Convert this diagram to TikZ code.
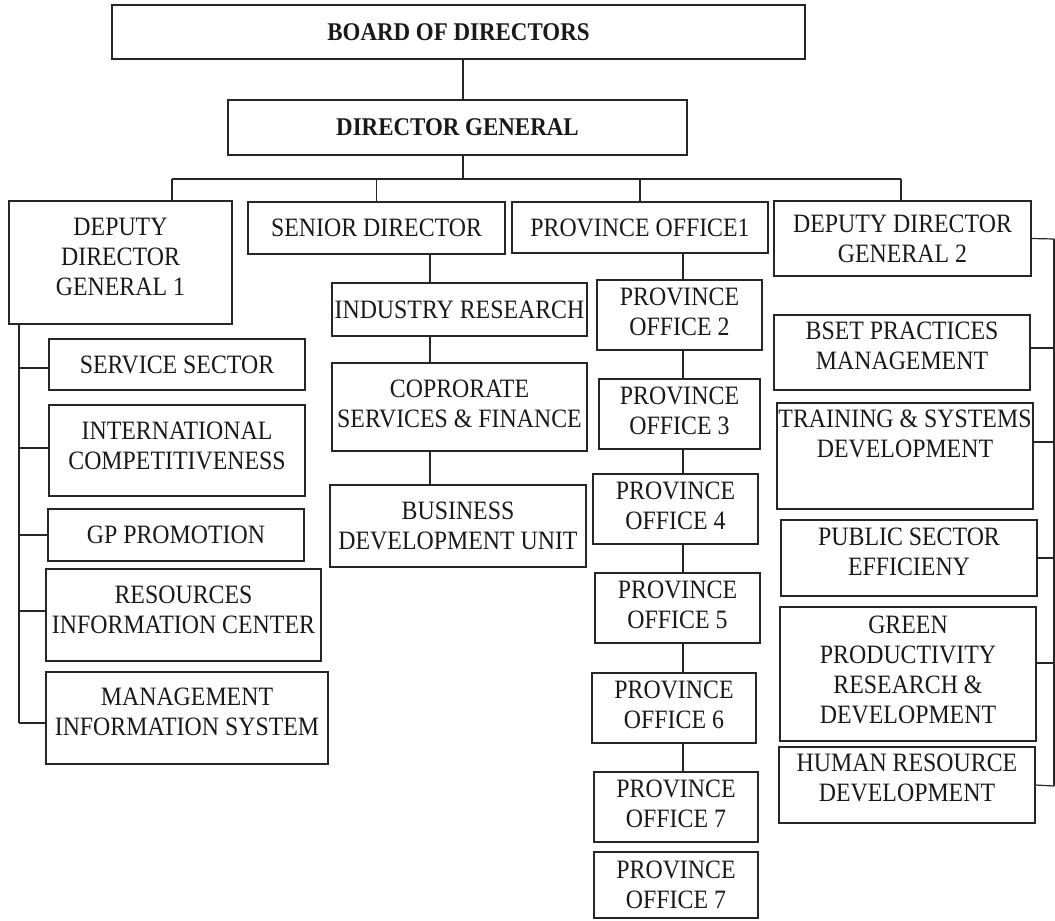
\documentclass[tikz,border=0pt]{standalone}
\usepackage{fontspec}
\setmainfont{Liberation Serif}[FakeStretch=0.9]
\usetikzlibrary{calc}
\newcommand\lowerpad[1]{\rule[-#1]{0pt}{#1}}
\tikzset{
  orgbox/.style={draw=black!85, line width=1.2pt, inner sep=0pt, align=center,
    font=\fontsize{26.5}{30}\selectfont, text=black!90},
  titlebox/.style={orgbox, font=\fontsize{25.5}{30}\selectfont\bfseries},
  link/.style={draw=black!85, line width=1.2pt}
}
\begin{document}
\begin{tikzpicture}[x=1pt,y=-1pt]
\useasboundingbox (0,0) rectangle (1055,921);
% top
\node[titlebox, minimum width=693pt, minimum height=54pt] (board) at (458.5,32) {BOARD OF DIRECTORS};
\node[titlebox, minimum width=459pt, minimum height=55pt] (dg) at (457.5,127.5) {DIRECTOR GENERAL};
% second level
\node[orgbox, minimum width=223pt, minimum height=123pt] (ddg1) at (120.5,262.5) {DEPUTY\\DIRECTOR\\GENERAL 1\lowerpad{11pt}};
\node[orgbox, minimum width=257pt, minimum height=52pt] (sd) at (376.5,228) {SENIOR DIRECTOR};
\node[orgbox, minimum width=256pt, minimum height=51pt] (po1) at (640,227.5) {PROVINCE OFFICE1};
\node[orgbox, minimum width=257pt, minimum height=75pt] (ddg2) at (902.5,238.5) {DEPUTY DIRECTOR\\GENERAL 2};
% senior director column
\node[orgbox, minimum width=255pt, minimum height=53pt] (ir) at (459.5,309.5) {INDUSTRY RESEARCH};
\node[orgbox, minimum width=255pt, minimum height=88pt] (csf) at (459.5,407) {COPRORATE\\SERVICES \& FINANCE\lowerpad{7pt}};
\node[orgbox, minimum width=256pt, minimum height=82pt] (bdu) at (458,526) {BUSINESS\\DEVELOPMENT UNIT};
% province column
\node[orgbox, minimum width=165pt, minimum height=70pt] (po2) at (679.5,315) {PROVINCE\\OFFICE 2\lowerpad{7pt}};
\node[orgbox, minimum width=161pt, minimum height=70pt] (po3) at (679.5,414) {PROVINCE\\OFFICE 3\lowerpad{6pt}};
\node[orgbox, minimum width=165pt, minimum height=70pt] (po4) at (675.5,509) {PROVINCE\\OFFICE 4\lowerpad{7pt}};
\node[orgbox, minimum width=165pt, minimum height=70pt] (po5) at (677.5,608) {PROVINCE\\OFFICE 5\lowerpad{6pt}};
\node[orgbox, minimum width=164pt, minimum height=70pt] (po6) at (674,708) {PROVINCE\\OFFICE 6\lowerpad{6pt}};
\node[orgbox, minimum width=164pt, minimum height=70pt] (po7) at (676,807) {PROVINCE\\OFFICE 7\lowerpad{6pt}};
\node[orgbox, minimum width=164pt, minimum height=66pt] (po7b) at (676,885) {PROVINCE\\OFFICE 7};
% left column
\node[orgbox, minimum width=256pt, minimum height=51pt] (ss) at (177,364.5) {SERVICE SECTOR};
\node[orgbox, minimum width=256pt, minimum height=91pt] (ic) at (177,450.5) {INTERNATIONAL\\COMPETITIVENESS\lowerpad{10pt}};
\node[orgbox, minimum width=256pt, minimum height=52pt] (gp) at (176,535) {GP PROMOTION};
\node[orgbox, minimum width=275pt, minimum height=92pt] (ric) at (183.5,615) {RESOURCES\\INFORMATION CENTER\lowerpad{11pt}};
\node[orgbox, minimum width=282pt, minimum height=92pt] (mis) at (187,718) {MANAGEMENT\\INFORMATION SYSTEM\lowerpad{13pt}};
% right column
\node[orgbox, minimum width=256pt, minimum height=75pt] (bset) at (902,352.5) {BSET PRACTICES\\MANAGEMENT\lowerpad{13pt}};
\node[orgbox, minimum width=256pt, minimum height=106pt] (tsd) at (905,456) {TRAINING \& SYSTEMS\\DEVELOPMENT\lowerpad{44pt}};
\node[orgbox, minimum width=256pt, minimum height=76pt] (pse) at (909,558) {PUBLIC SECTOR\\EFFICIENY\lowerpad{13pt}};
\node[orgbox, minimum width=256pt, minimum height=134pt] (gprd) at (908,674) {GREEN\\PRODUCTIVITY\\RESEARCH \&\\DEVELOPMENT\lowerpad{9pt}};
\node[orgbox, minimum width=256pt, minimum height=76pt] (hr) at (907,785) {HUMAN RESOURCE\\DEVELOPMENT\lowerpad{14pt}};
% helper coordinates
\coordinate (topx) at (463,0);
\coordinate (busL) at (172,179);
\coordinate (busR) at (901,179);
\coordinate (sdx) at (430,0);
\coordinate (pox) at (683,0);
\coordinate (lt) at (19,324);
\coordinate (lb) at (19,723);
\coordinate (rt) at (1054,239);
\coordinate (rb) at (1054,786);
% top connectors
\draw[link] (board.south -| topx) -- (dg.north -| topx);
\draw[link] (dg.south -| topx) -- (busL -| topx);
\draw[link] (busL) -- (busR);
\draw[link] (busL) -- (busL |- ddg1.north);
\draw[link] (sd.north |- busL) -- (sd.north);
\draw[link] (po1.north |- busL) -- (po1.north);
\draw[link] (busR) -- (busR |- ddg2.north);
% senior director chain
\draw[link] (sd.south -| sdx) -- (ir.north -| sdx);
\draw[link] (ir.south -| sdx) -- (csf.north -| sdx);
\draw[link] (csf.south -| sdx) -- (bdu.north -| sdx);
% province chain
\draw[link] (po1.south -| pox) -- (po2.north -| pox);
\draw[link] (po2.south -| pox) -- (po3.north -| pox);
\draw[link] (po3.south -| pox) -- (po4.north -| pox);
\draw[link] (po4.south -| pox) -- (po5.north -| pox);
\draw[link] (po5.south -| pox) -- (po6.north -| pox);
\draw[link] (po6.south -| pox) -- (po7.north -| pox);
% left spine
\draw[link] (lt) -- (lb);
\coordinate (ssc) at ($(ss.west)+(0,3.5)$);
\coordinate (icc) at ($(ic.west)+(0,-2.5)$);
\coordinate (gpc) at (gp.west);
\coordinate (ricc) at ($(ric.west)+(0,-4)$);
\coordinate (misc) at ($(mis.west)+(0,5)$);
\draw[link] (lt |- ssc) -- (ssc);
\draw[link] (lt |- icc) -- (icc);
\draw[link] (lt |- gpc) -- (gpc);
\draw[link] (lt |- ricc) -- (ricc);
\draw[link] (lb) -- (misc);
% right spine
\draw[link] (rt) -- (rb);
\coordinate (ddg2c) at (ddg2.east);
\coordinate (bsetc) at ($(bset.east)+(0,-4.5)$);
\coordinate (tsdc) at ($(tsd.east)+(0,-14)$);
\coordinate (psec) at (pse.east);
\coordinate (gprdc) at ($(gprd.east)+(0,-11)$);
\coordinate (hrc) at (hr.east);
\draw[link] (ddg2c) -- (rt);
\draw[link] (bsetc) -- (rt |- bsetc);
\draw[link] (tsdc) -- (rt |- tsdc);
\draw[link] (psec) -- (rt |- psec);
\draw[link] (gprdc) -- (rt |- gprdc);
\draw[link] (hrc) -- (rb);
\end{tikzpicture}
\end{document}
